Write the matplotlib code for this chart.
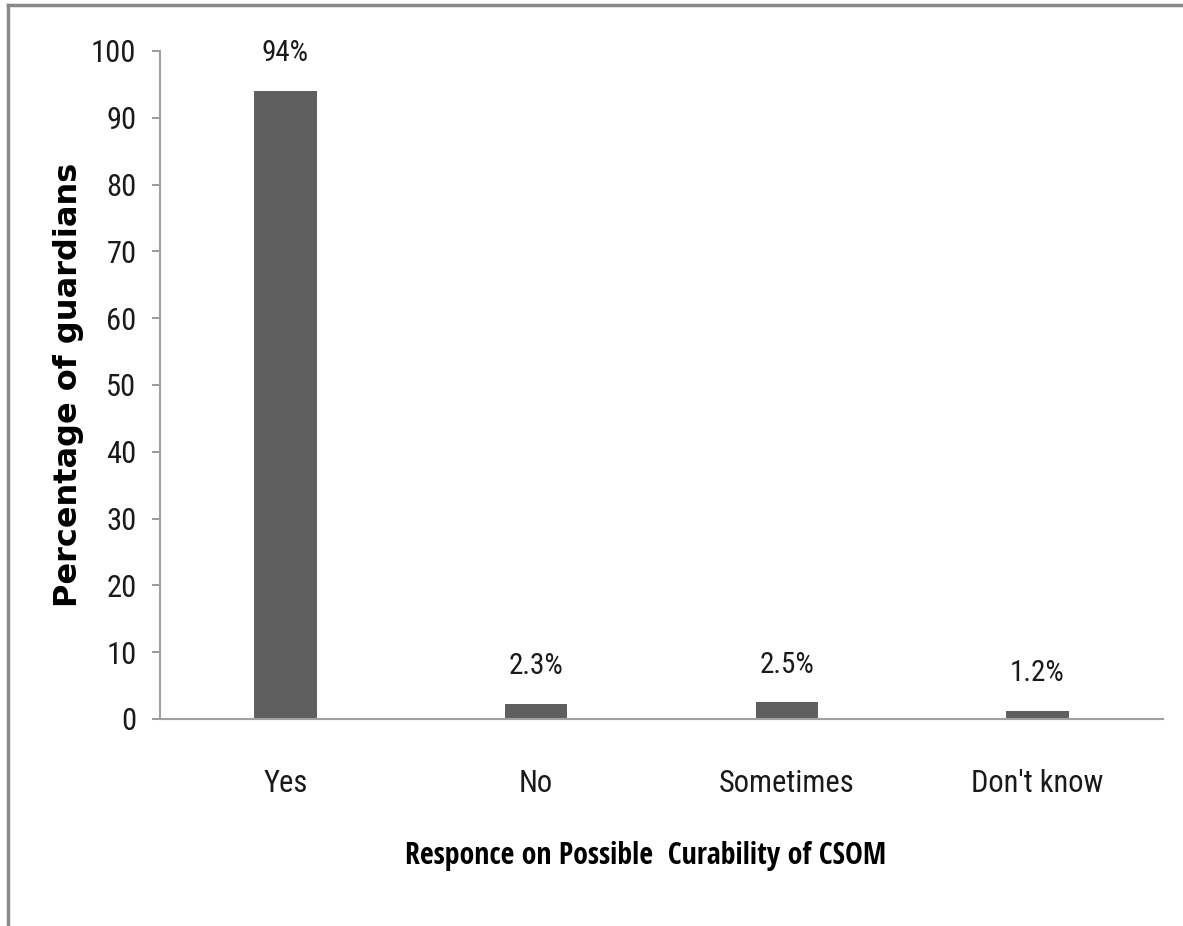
import matplotlib
matplotlib.use("Agg")
import matplotlib.pyplot as plt
from matplotlib import font_manager

# data
categories = ["Yes", "No", "Sometimes", "Don't know"]
percentages = [94, 2.3, 2.5, 1.2]
bar_labels = ["94%", "2.3%", "2.5%", "1.2%"]
y_ticks = list(range(0, 101, 10))

# the reference uses a narrow Calibri-like face; take the first narrow family we have
names = {f.name for f in font_manager.fontManager.ttflist}

def pick(cands):
    for c in cands:
        if c in names:
            return c
    return "DejaVu Sans"

narrow = pick(["Roboto Condensed", "Liberation Sans Narrow", "Sofia Sans Semi Condensed", "Carlito"])
narrow_bold = pick(["Open Sans Condensed", "Roboto Condensed", "Sofia Sans Semi Condensed"])

fig = plt.figure(figsize=(11.83, 9.26), dpi=100)
ax = fig.add_axes([160 / 1183, 1 - 719 / 926, (1163 - 160) / 1183, (719 - 51) / 926])

x = range(len(categories))
ax.bar(x, percentages, width=0.25, color="#5f5f5f", zorder=2)
for xi, v, lab in zip(x, percentages, bar_labels):
    ax.annotate(lab, (xi, v), xytext=(0, 17), textcoords="offset points",
                ha="center", va="bottom", fontsize=21, family=narrow,
                fontweight="normal", color="#1a1a1a")

ax.set_xlim(-0.5, len(categories) - 0.5)
ax.set_ylim(0, 100)
ax.set_yticks(y_ticks)
ax.set_xticks(list(x))
ax.set_xticklabels(categories)
for lab in ax.get_xticklabels() + ax.get_yticklabels():
    lab.set_family(narrow)
    lab.set_fontweight("normal")
    lab.set_fontsize(22)
    lab.set_color("#1a1a1a")

ax.tick_params(axis="y", direction="out", length=6, width=1.2, color="#888888", pad=11)
ax.tick_params(axis="x", length=0, pad=36)
for s in ["top", "right"]:
    ax.spines[s].set_visible(False)
for s in ["left", "bottom"]:
    ax.spines[s].set_color("#a0a0a0")
    ax.spines[s].set_linewidth(1.5)

ax.set_ylabel("Percentage of guardians", fontsize=23, fontweight="bold", family="DejaVu Sans")
ax.yaxis.set_label_coords(-0.076, 0.5)
ax.set_xlabel("Responce on Possible  Curability of CSOM", fontsize=21.5,
              fontweight="bold", family=narrow_bold)
ax.xaxis.set_label_coords(0.4846, -0.183)

# outer frame (only top and left edges are visible in the reference)
fig.add_artist(plt.Line2D([8 / 1183, 8 / 1183], [0, 1 - 5 / 926], transform=fig.transFigure,
                          color="#8a8a8a", lw=2.5))
fig.add_artist(plt.Line2D([8 / 1183, 1], [1 - 5 / 926, 1 - 5 / 926], transform=fig.transFigure,
                          color="#8a8a8a", lw=2.5))

fig.savefig("out.png", dpi=100)
